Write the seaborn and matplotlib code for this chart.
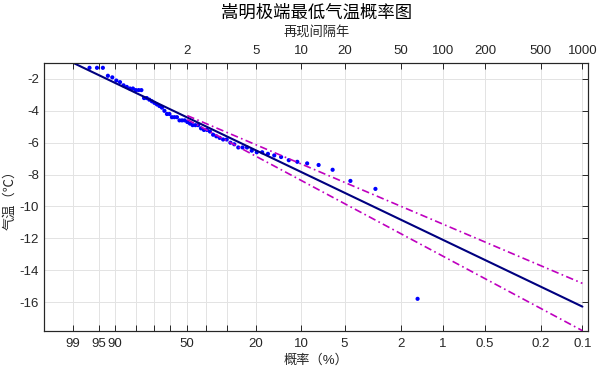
import numpy as np
import pandas as pd
import matplotlib
matplotlib.use("Agg")
import matplotlib.pyplot as plt
import seaborn as sns

# exceedance probability (%) of each plotted year
obs_prob = [96.97, 95.45, 93.94, 92.42, 90.91, 89.39, 87.88, 86.36, 84.85, 83.33,
            81.82, 80.30, 78.79, 77.27, 75.76, 74.24, 72.73, 71.21, 69.70, 68.18,
            66.67, 65.15, 63.64, 62.12, 60.61, 59.09, 57.58, 56.06, 54.55, 53.03,
            51.52, 50.00, 48.48, 46.97, 45.45, 43.94, 42.42, 40.91, 39.39, 37.88,
            36.36, 34.85, 33.33, 31.82, 30.30, 28.79, 27.27, 25.76, 24.24, 22.73,
            21.21, 19.70, 18.18, 16.67, 15.15, 13.64, 12.12, 10.61, 9.09, 7.58,
            6.06, 4.55, 3.03, 1.52]
# observed minimum temperature (deg C)
obs_temp = [-1.3, -1.3, -1.3, -1.8, -1.9, -2.1, -2.2, -2.4, -2.5, -2.6,
            -2.6, -2.7, -2.7, -2.7, -3.2, -3.2, -3.3, -3.4, -3.5, -3.6,
            -3.7, -3.8, -4.0, -4.2, -4.2, -4.4, -4.4, -4.4, -4.6, -4.6,
            -4.6, -4.7, -4.8, -4.9, -4.9, -4.9, -5.1, -5.2, -5.2, -5.3,
            -5.5, -5.6, -5.7, -5.8, -5.8, -6.0, -6.1, -6.3, -6.3, -6.3,
            -6.5, -6.6, -6.6, -6.7, -6.8, -6.9, -7.1, -7.2, -7.3, -7.4,
            -7.7, -8.4, -8.9, -15.8]

# fitted line and confidence band (end points)
fit_prob = [99, 0.1]
fit_temp = [-0.98, -16.29]
ci_prob = [50, 0.1]
ci_upper = [-4.30, -14.83]
ci_lower = [-4.55, -17.80]

# axis ticks
prob_ticks = [99, 95, 90, 80, 70, 60, 50, 40, 30, 20, 10, 5, 2, 1, 0.5, 0.2, 0.1]
bottom_labels = ["99", "95", "90", "", "", "", "50", "", "", "20", "10", "5",
                 "2", "1", "0.5", "0.2", "0.1"]
top_labels = ["", "", "", "", "", "", "2", "", "", "5", "10", "20", "50",
              "100", "200", "500", "1000"]
temp_ticks = [-2, -4, -6, -8, -10, -12, -14, -16]

sns.set_style("white")
plt.rcParams["font.family"] = ["Liberation Sans", "Noto Sans CJK SC"]
plt.rcParams["axes.unicode_minus"] = False

INK = "#262626"


# Gumbel probability paper
def fwd(p):
    p = np.clip(np.asarray(p, dtype=float), 1e-6, 100 - 1e-6)
    return np.log(-np.log(1 - p / 100.0))


def inv(y):
    y = np.asarray(y, dtype=float)
    return 100.0 * (1 - np.exp(-np.exp(y)))


fig = plt.figure(figsize=(5.98, 3.68), dpi=100)
ax = fig.add_axes([0.0741, 0.1014, 0.9092, 0.7282])
ax.set_xscale("function", functions=(fwd, inv))

obs = pd.DataFrame({"p": obs_prob, "t": obs_temp})
sns.scatterplot(data=obs, x="p", y="t", ax=ax, s=9, color="#0000FF",
                edgecolor="none", zorder=3)
sns.lineplot(x=fit_prob, y=fit_temp, ax=ax, color="#00007F", lw=1.5,
             sort=False, zorder=4)
sns.lineplot(x=ci_prob, y=ci_upper, ax=ax, color="#BF00BF", lw=1.2,
             linestyle=(0, (4.5, 2, 1, 2)), sort=False, zorder=4)
sns.lineplot(x=ci_prob, y=ci_lower, ax=ax, color="#BF00BF", lw=1.2,
             linestyle=(0, (4.5, 2, 1, 2)), sort=False, zorder=4)

ax.set_xlim(inv(2.0), inv(-7.0))
ax.set_ylim(ci_lower[-1], fit_temp[0])
ax.set_xticks(prob_ticks)
ax.set_xticklabels(bottom_labels)
ax.xaxis.set_minor_locator(matplotlib.ticker.NullLocator())
ax.set_yticks(temp_ticks)
ax.set_yticklabels([str(v) for v in temp_ticks])
ax.grid(True, color="#E3E3E3", lw=0.7)
ax.set_axisbelow(True)
ax.tick_params(axis="x", direction="in", length=4, width=0.7, color=INK,
               labelcolor=INK, labelsize=9.5, pad=5)
ax.tick_params(axis="y", direction="in", length=4, width=0.7, color=INK,
               labelcolor=INK, labelsize=9.5, right=True, pad=4)
for s in ax.spines.values():
    s.set_color(INK)
    s.set_linewidth(0.8)
ax.set_xlabel("概率（%）", fontsize=9.5, color=INK, labelpad=3)
ax.set_ylabel("气温（℃）", fontsize=9.5, color=INK)
ax.yaxis.set_label_coords(-0.051, 0.5)

top = ax.twiny()
top.set_xscale("function", functions=(fwd, inv))
top.set_xlim(ax.get_xlim())
top.set_xticks(prob_ticks)
top.set_xticklabels(top_labels)
top.xaxis.set_minor_locator(matplotlib.ticker.NullLocator())
top.tick_params(direction="in", length=4, width=0.7, color=INK, labelcolor=INK,
                labelsize=9.5, pad=4)
for s in top.spines.values():
    s.set_color(INK)
    s.set_linewidth(0.8)

fig.text(0.529, 0.913, "再现间隔年", fontsize=9.5, color=INK,
         ha="center", va="center")
fig.text(0.529, 0.966, "嵩明极端最低气温概率图", fontsize=12.5, color="black",
         ha="center", va="center")

fig.savefig("out.png", dpi=100)
